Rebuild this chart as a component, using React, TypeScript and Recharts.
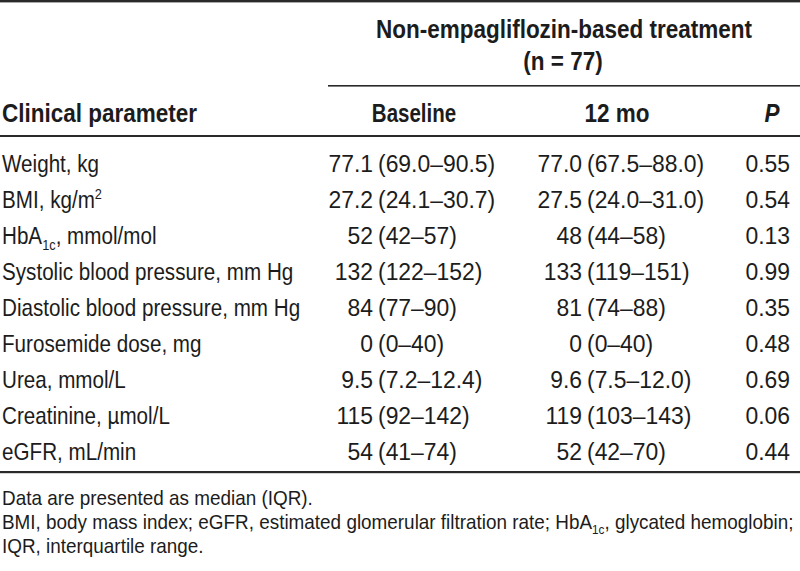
import React from "react";
import { ScatterChart, Scatter, XAxis, YAxis, Customized } from "recharts";

// ---- data ----
const params = [
  "Weight, kg",
  "BMI, kg/m^2",
  "HbA_1c, mmol/mol",
  "Systolic blood pressure, mm Hg",
  "Diastolic blood pressure, mm Hg",
  "Furosemide dose, mg",
  "Urea, mmol/L",
  "Creatinine, µmol/L",
  "eGFR, mL/min",
];
const baselineMedian = ["77.1", "27.2", "52", "132", "84", "0", "9.5", "115", "54"];
const baselineIQR = ["(69.0–90.5)", "(24.1–30.7)", "(42–57)", "(122–152)", "(77–90)", "(0–40)", "(7.2–12.4)", "(92–142)", "(41–74)"];
const month12Median = ["77.0", "27.5", "48", "133", "81", "0", "9.6", "119", "52"];
const month12IQR = ["(67.5–88.0)", "(24.0–31.0)", "(44–58)", "(119–151)", "(74–88)", "(0–40)", "(7.5–12.0)", "(103–143)", "(42–70)"];
const pValues = ["0.55", "0.54", "0.13", "0.99", "0.35", "0.48", "0.69", "0.06", "0.44"];

const groupTitle = "Non-empagliflozin-based treatment";
const groupN = "(n = 77)";
const colHeaders = ["Clinical parameter", "Baseline", "12 mo", "P"];
const footnotes = [
  "Data are presented as median (IQR).",
  "BMI, body mass index; eGFR, estimated glomerular filtration rate; HbA_1c, glycated hemoglobin;",
  "IQR, interquartile range.",
];

// ---- layout ----
const W = 800;
const H = 571;
const FONT = "'Liberation Sans', Arial, sans-serif";
const FS = 24;
const SX = 0.86;
const SX_NUM = 0.955;
const BFS = 25;
const BSX = 0.9;
const FN_FS = 21;
const FN_SX = 0.9;
const INK = "#1c1c1c";
const COL = { label: 2, bParen: 378, mParen: 587, pRight: 790 };
const GAP = 5;

const colData = (col: number) =>
  params.map((p, i) => ({
    param: p,
    col,
    bMed: baselineMedian[i],
    bIqr: baselineIQR[i],
    mMed: month12Median[i],
    mIqr: month12IQR[i],
    p: pValues[i],
  }));

function renderRich(str: string, fs: number) {
  const parts: React.ReactNode[] = [];
  const re = /([_^])(\w+)/g;
  let last = 0;
  let m: RegExpExecArray | null;
  let k = 0;
  let pendingDy = 0;
  while ((m = re.exec(str))) {
    if (m.index > last) {
      parts.push(
        <tspan key={k++} dy={pendingDy || undefined}>
          {str.slice(last, m.index)}
        </tspan>
      );
      pendingDy = 0;
    }
    const sub = m[1] === "_";
    const shift = sub ? fs * 0.25 : -fs * 0.38;
    parts.push(
      <tspan key={k++} fontSize={fs * 0.62} dy={shift + pendingDy}>
        {m[2]}
      </tspan>
    );
    pendingDy = -shift;
    last = m.index + m[0].length;
  }
  if (last < str.length)
    parts.push(
      <tspan key={k++} dy={pendingDy || undefined}>
        {str.slice(last)}
      </tspan>
    );
  return parts;
}

type STProps = {
  x: number;
  y: number;
  anchor?: "start" | "middle" | "end";
  bold?: boolean;
  italic?: boolean;
  size?: number;
  sx?: number;
  children: React.ReactNode;
};
const SText = ({ x, y, anchor = "start", bold, italic, size, sx, children }: STProps) => (
  <g transform={`translate(${x},${y}) scale(${sx ?? (bold ? BSX : SX)},1)`}>
    <text
      x={0}
      y={0}
      textAnchor={anchor}
      fontFamily={FONT}
      fontSize={size ?? (bold ? BFS : FS)}
      fontWeight={bold ? "bold" : "normal"}
      fontStyle={italic ? "italic" : "normal"}
      fill={INK}
    >
      {children}
    </text>
  </g>
);

const textShape = (field: string, anchor: "start" | "end", dx: number, sx: number, rich = false) => (props: any) => {
  const { cx, cy, payload } = props;
  const v = payload[field];
  return (
    <SText x={cx + dx} y={cy} anchor={anchor} sx={sx}>
      {rich ? renderRich(v, FS) : v}
    </SText>
  );
};

const Static = () => (
  <g>
    <rect x={0} y={0} width={W} height={2.4} fill="#2a2a2a" />
    <SText x={564} y={38} anchor="middle" bold>{groupTitle}</SText>
    <SText x={563} y={70} anchor="middle" bold>{groupN}</SText>
    <rect x={328} y={85} width={W - 328} height={1.6} fill="#2a2a2a" />
    <SText x={2} y={122} bold>{colHeaders[0]}</SText>
    <SText x={414} y={122} anchor="middle" bold sx={0.82}>{colHeaders[1]}</SText>
    <SText x={617} y={122} anchor="middle" bold>{colHeaders[2]}</SText>
    <SText x={772} y={122} anchor="middle" bold italic>{colHeaders[3]}</SText>
    <rect x={0} y={135} width={W} height={2} fill="#2a2a2a" />
    <rect x={0} y={471} width={W} height={2.2} fill="#2a2a2a" />
    {footnotes.map((f, i) => (
      <SText key={i} x={2} y={505 + i * 24} size={FN_FS} sx={FN_SX}>
        {renderRich(f, FN_FS)}
      </SText>
    ))}
  </g>
);

export default function App() {
  return (
    <div style={{ position: "absolute", left: 0, top: 0, width: W, height: H, background: "#fff" }}>
      <ScatterChart width={W} height={H} margin={{ top: 154, right: 0, bottom: 93, left: 0 }}>
        <XAxis type="number" dataKey="col" domain={[0, W]} hide />
        <YAxis type="category" dataKey="param" scale="band" hide reversed width={0} allowDuplicatedCategory={false} />
        <Customized component={Static} />
        <Scatter data={colData(COL.label)} isAnimationActive={false} shape={textShape("param", "start", 0, SX, true)} />
        <Scatter data={colData(COL.bParen)} isAnimationActive={false} shape={textShape("bMed", "end", -GAP, SX_NUM)} />
        <Scatter data={colData(COL.bParen)} isAnimationActive={false} shape={textShape("bIqr", "start", 0, SX_NUM)} />
        <Scatter data={colData(COL.mParen)} isAnimationActive={false} shape={textShape("mMed", "end", -GAP, SX_NUM)} />
        <Scatter data={colData(COL.mParen)} isAnimationActive={false} shape={textShape("mIqr", "start", 0, SX_NUM)} />
        <Scatter data={colData(COL.pRight)} isAnimationActive={false} shape={textShape("p", "end", 0, SX_NUM)} />
      </ScatterChart>
    </div>
  );
}
